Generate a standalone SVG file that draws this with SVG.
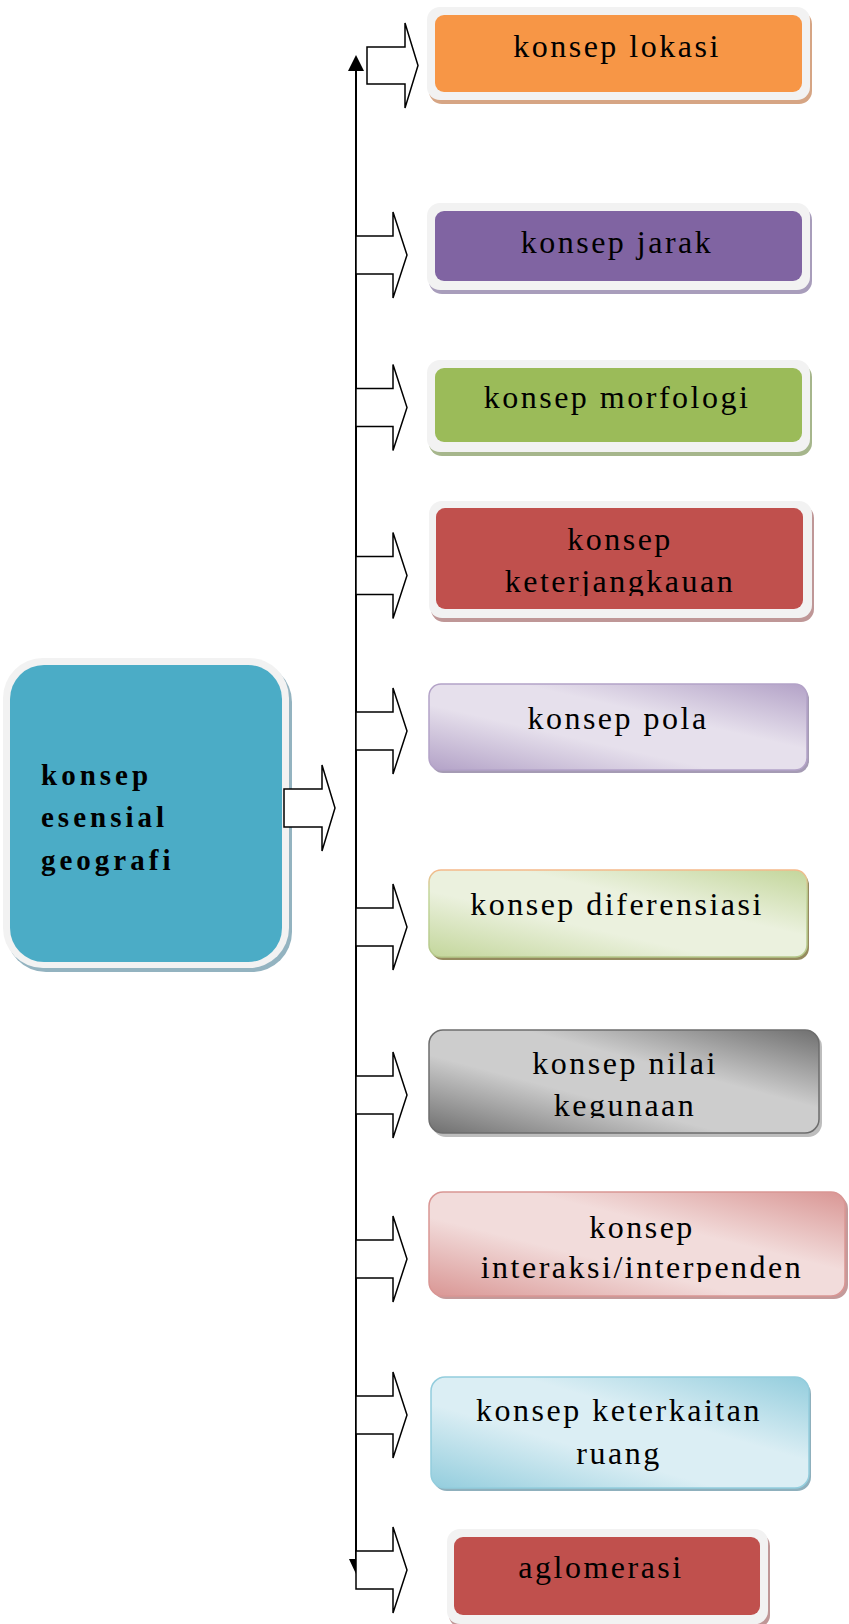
<svg xmlns="http://www.w3.org/2000/svg" width="849" height="1624" viewBox="0 0 849 1624">
<style>
.t{font-family:"Liberation Serif","Times New Roman",serif;font-size:32px;letter-spacing:2.5px;fill:#000;text-anchor:middle}
.tb{font-family:"Liberation Serif","Times New Roman",serif;font-size:29px;font-weight:bold;letter-spacing:4px;fill:#000}
.frame{fill:#f2f2f2}
.blk{fill:#fff;stroke:#000;stroke-width:1.5;stroke-linejoin:miter}
.axis{stroke:#000;stroke-width:2;fill:none}
</style>
<defs>
<linearGradient id="gPola" x1="0" y1="1" x2="1" y2="0"><stop offset="0" stop-color="#b3a2c7"/><stop offset="0.38" stop-color="#e6e0ec"/><stop offset="0.62" stop-color="#e6e0ec"/><stop offset="1" stop-color="#b3a2c7"/></linearGradient>
<linearGradient id="gDif" x1="0" y1="1" x2="1" y2="0"><stop offset="0" stop-color="#c3d69b"/><stop offset="0.38" stop-color="#ebf1de"/><stop offset="0.62" stop-color="#ebf1de"/><stop offset="1" stop-color="#c3d69b"/></linearGradient>
<linearGradient id="gDifS" x1="0" y1="0" x2="0" y2="1"><stop offset="0" stop-color="#f5b98a"/><stop offset="0.25" stop-color="#c3d69b"/><stop offset="1" stop-color="#b5c88a"/></linearGradient>
<linearGradient id="gNil" x1="0" y1="1" x2="1" y2="0"><stop offset="0" stop-color="#6f6f6f"/><stop offset="0.38" stop-color="#cdcdcd"/><stop offset="0.62" stop-color="#cdcdcd"/><stop offset="1" stop-color="#6f6f6f"/></linearGradient>
<linearGradient id="gInt" x1="0" y1="1" x2="1" y2="0"><stop offset="0" stop-color="#d99694"/><stop offset="0.38" stop-color="#f2dcdb"/><stop offset="0.62" stop-color="#f2dcdb"/><stop offset="1" stop-color="#d99694"/></linearGradient>
<linearGradient id="gKet" x1="0" y1="1" x2="1" y2="0"><stop offset="0" stop-color="#93cddd"/><stop offset="0.38" stop-color="#dbeef4"/><stop offset="0.62" stop-color="#dbeef4"/><stop offset="1" stop-color="#93cddd"/></linearGradient>
<clipPath id="cKj"><rect x="430" y="500" width="380" height="96"/></clipPath>
<clipPath id="cNil"><rect x="430" y="1030" width="390" height="88"/></clipPath>
<clipPath id="cInt"><rect x="430" y="1192" width="419" height="90"/></clipPath>
</defs>

<g id="node-main">
<rect x="6" y="662" width="286" height="310" rx="40" fill="#93b3c0"/>
<rect x="3" y="658" width="286" height="310" rx="40" class="frame"/>
<rect x="10" y="665" width="272" height="297" rx="34" fill="#4bacc6"/>
<text class="tb" x="41" y="785">konsep</text>
<text class="tb" x="41" y="827">esensial</text>
<text class="tb" x="41" y="870">geografi</text>
</g>

<g id="connectors">
<line class="axis" x1="356" y1="70" x2="356" y2="1565"/>
<polygon points="348,71 364,71 356,55" fill="#000"/>
<polygon points="349,1559 363,1559 356,1574" fill="#000"/>
<path class="blk" d="M284,789 H322 V765 L335,808 L322,851 V827 H284 Z"/>
<path class="blk" d="M367,47 H405 V23 L418,65.5 L405,108 V84 H367 Z"/>
<path class="blk" d="M356,236 H393 V212 L407,255 L393,298 V274 H356 Z"/>
<path class="blk" d="M356,388.5 H393 V364.5 L407,407.5 L393,450.5 V426.5 H356 Z"/>
<path class="blk" d="M356,556.5 H393 V532.5 L407,575.5 L393,618.5 V594.5 H356 Z"/>
<path class="blk" d="M356,712 H393 V688 L407,731 L393,774 V750 H356 Z"/>
<path class="blk" d="M356,908 H393 V884 L407,927 L393,970 V946 H356 Z"/>
<path class="blk" d="M356,1076 H393 V1052 L407,1095 L393,1138 V1114 H356 Z"/>
<path class="blk" d="M356,1240 H393 V1216 L407,1259 L393,1302 V1278 H356 Z"/>
<path class="blk" d="M356,1396 H393 V1372 L407,1415 L393,1458 V1434 H356 Z"/>
<path class="blk" d="M356,1551 H393 V1527 L407,1570 L393,1613 V1589 H356 Z"/>
</g>

<g id="node-lokasi">
<rect x="429" y="11" width="383" height="93" rx="13" fill="#d6a584"/>
<rect x="427" y="7" width="383" height="93" rx="13" class="frame"/>
<rect x="435" y="15" width="367" height="77" rx="9" fill="#f79646"/>
<text class="t" x="617" y="57">konsep lokasi</text>
</g>

<g id="node-jarak">
<rect x="429" y="207" width="383" height="87" rx="13" fill="#a89dbb"/>
<rect x="427" y="203" width="383" height="87" rx="13" class="frame"/>
<rect x="435" y="211" width="367" height="70" rx="9" fill="#8064a2"/>
<text class="t" x="617" y="253">konsep jarak</text>
</g>

<g id="node-morfologi">
<rect x="429" y="364" width="383" height="92" rx="13" fill="#a6b68c"/>
<rect x="427" y="360" width="383" height="92" rx="13" class="frame"/>
<rect x="435" y="368" width="367" height="74" rx="9" fill="#9bbb59"/>
<text class="t" x="617" y="408">konsep morfologi</text>
</g>

<g id="node-keterjangkauan">
<rect x="431" y="505" width="383" height="117" rx="13" fill="#bf9797"/>
<rect x="429" y="501" width="383" height="117" rx="13" class="frame"/>
<rect x="436" y="508" width="367" height="101" rx="9" fill="#c0504d"/>
<g clip-path="url(#cKj)">
<text class="t" x="620" y="550">konsep</text>
<text class="t" x="620" y="592">keterjangkauan</text>
</g>
</g>

<g id="node-pola">
<rect x="431" y="687" width="378" height="86" rx="12" fill="#a59bb4"/>
<rect x="429" y="684" width="378" height="86" rx="12" fill="url(#gPola)" stroke="#b3a2c7" stroke-width="1.5"/>
<text class="t" x="618" y="729">konsep pola</text>
</g>

<g id="node-diferensiasi">
<rect x="431" y="873" width="378" height="87" rx="12" fill="#958a5e"/>
<rect x="429" y="870" width="378" height="87" rx="12" fill="url(#gDif)" stroke="url(#gDifS)" stroke-width="1.5"/>
<text class="t" x="617" y="915">konsep diferensiasi</text>
</g>

<g id="node-nilai">
<rect x="432" y="1033" width="390" height="104" rx="14" fill="#bdbdbd"/>
<rect x="429" y="1030" width="390" height="103" rx="14" fill="url(#gNil)" stroke="#6d6d6d" stroke-width="1.5"/>
<g clip-path="url(#cNil)">
<text class="t" x="625" y="1074">konsep nilai</text>
<text class="t" x="625" y="1116">kegunaan</text>
</g>
</g>

<g id="node-interaksi">
<rect x="432" y="1195" width="416" height="104" rx="14" fill="#c49a9a"/>
<rect x="429" y="1192" width="416" height="104" rx="14" fill="url(#gInt)" stroke="#d99694" stroke-width="1.5"/>
<g clip-path="url(#cInt)">
<text class="t" x="642" y="1238">konsep</text>
<text class="t" x="642" y="1278">interaksi/interpenden</text>
</g>
</g>

<g id="node-keterkaitan">
<rect x="433" y="1380" width="378" height="111" rx="14" fill="#8fb0bd"/>
<rect x="431" y="1377" width="378" height="111" rx="14" fill="url(#gKet)" stroke="#93cddd" stroke-width="1.5"/>
<text class="t" x="619" y="1421">konsep keterkaitan</text>
<text class="t" x="619" y="1464">ruang</text>
</g>

<g id="node-aglomerasi">
<rect x="449" y="1533" width="321" height="95" rx="13" fill="#bf9797"/>
<rect x="447" y="1529" width="321" height="95" rx="13" class="frame"/>
<rect x="454" y="1537" width="306" height="78" rx="9" fill="#c0504d"/>
<text class="t" x="601" y="1578">aglomerasi</text>
</g>
</svg>
